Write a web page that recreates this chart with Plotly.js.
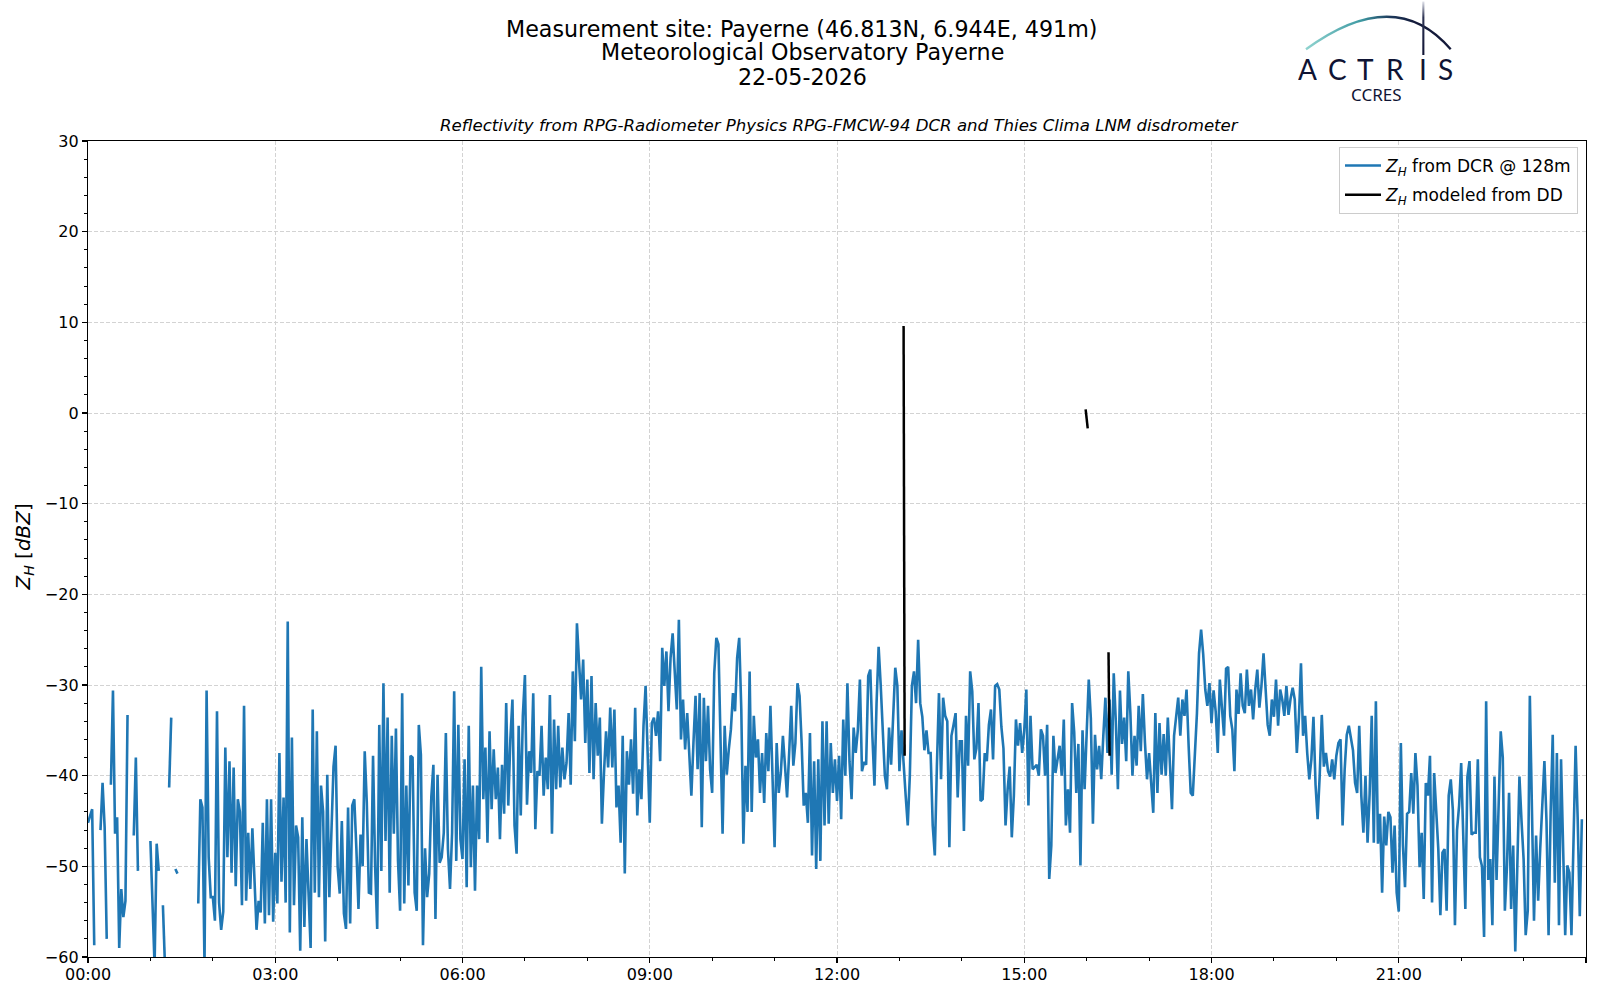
<!DOCTYPE html>
<html>
<head>
<meta charset="utf-8">
<script src="https://cdn.plot.ly/plotly-3.0.1.min.js"></script>
<style>
html,body{margin:0;padding:0;background:#ffffff;}
#chart{width:1600px;height:1000px;}
</style>
</head>
<body>
<div id="chart"></div>
<script>
// ---------------- DATA ----------------
const dateStr = '2026-05-22';
const stepMinutes = 2; // DCR sampling used here (values per hour = 30)

// Z_H from DCR @ 128m [dBZ], one array per hour, 2-minute steps (null = no data)
const dcrH00 = [-45.2,-44.5,-43.7,-58.7,null,null,-46,-40.8,-45.7,-58,null,-41,-30.6,-46.4,-44.6,-59,-52.5,-55.6,-53.8,-33.3,null,null,-46.6,-38,-50.5,null,null,null,null,null];
const dcrH01 = [-47.2,-54.5,-61,-47.5,-50.5,null,-54.3,-61,null,-41.3,-33.6,null,-50.3,-50.8,null,null,null,null,null,null,null,null,null,-54.1,-42.6,-43.5,-61,-30.6,-49,-53.4];
const dcrH02 = [-53.4,-56,-32.9,-54,-57,-55,-36.9,-49,-38.4,-50.7,-39.1,-52.2,-42.6,-44,-54.3,-32.3,-53.8,-46.3,-52.5,-45.8,-50.9,-57,-53.8,-55.1,-45.2,-56.3,-42.6,-55.4,-42.6,-56.1];
const dcrH03 = [-48.5,-54.1,-37.5,-51.7,-42.4,-54,-23,-57.3,-35.8,-54.3,-45.5,-46.8,-59.3,-44.6,-56.7,-47,-53,-59,-32.7,-52.9,-35.1,-53.4,-41.1,-44,-58.3,-39.9,-53.4,-46.6,-39,-36.7];
const dcrH04 = [-50.1,-53,-45,-55.2,-56.9,-43.5,-56.3,-43.3,-42.6,-48.1,-54.7,-46.5,-50,-37.3,-43,-52.9,-53,-37.8,-50,-56.9,-34.4,-50.5,-29.8,-47.2,-33.6,-52.9,-35.6,-46.4,-34.8,-49.4];
const dcrH05 = [-54.9,-30.9,-54.1,-41.1,-52.1,-37.8,-38,-52.9,-54.9,-34.4,-37.7,-58.7,-48,-53.4,-50.8,-42.4,-38.8,-55.8,-39.9,-49.6,-49,-46.3,-35.3,-48.1,-52.5,-46.3,-30.7,-49.4,-34.4,-47];
const dcrH06 = [-49.2,-38.2,-52.3,-34.5,-50.1,-41.1,-52.7,-41.1,-47,-28,-42.6,-36.9,-47.4,-35.1,-43.7,-37.1,-42.6,-39.1,-47,-38.8,-44.2,-32,-43.3,-36,-31.6,-45.5,-48.6,-34.5,-44.4,-33.4];
const dcrH07 = [-28.9,-43.2,-37.3,-39.7,-30.9,-45.9,-39.5,-40,-34.5,-42.2,-38,-41.5,-31.1,-46.4,-33.8,-41.5,-34.5,-41.3,-36.9,-40.4,-38.6,-33.1,-41,-28.5,-36.2,-23.2,-27.6,-31.6,-27.2,-36.4];
const dcrH08 = [-29.4,-39.7,-29,-40.4,-32,-37.8,-33.6,-45.3,-39.7,-35.1,-39.1,-32.5,-39.1,-32.7,-43.5,-41.1,-47.4,-35.6,-50.8,-37.3,-41,-36,-42,-32.5,-44.4,-39.3,-42.6,-34.5,-30.1,-37.1];
const dcrH09 = [-45.2,-34.2,-33.6,-35.6,-32.9,-38.4,-25.9,-30.1,-26.3,-32.9,-27,-24.3,-29,-32.7,-22.8,-36,-31.6,-37.1,-33.1,-37.8,-42.2,-36.4,-31.2,-39.3,-30.9,-45.7,-31.4,-38.4,-32.3,-39.3];
const dcrH10 = [-41.9,-28.7,-24.8,-25.5,-34.4,-46.4,-34.5,-39.9,-37.1,-34.9,-30.9,-32.9,-27,-24.8,-32.7,-47.5,-38.9,-44,-28.5,-44,-33.4,-38,-36,-41.9,-37.5,-43,-35.3,-39.5,-32.3,-41.1];
const dcrH11 = [-47.9,-36.4,-41.9,-39.7,-35.6,-38.9,-42.4,-37.5,-32.3,-38.9,-36.4,-29.8,-31.2,-36.4,-43.3,-41.9,-45.2,-35.3,-48.8,-38.4,-50.3,-38.2,-49.4,-34,-45.5,-34,-45.3,-36.4,-41.9,-38.2];
const dcrH12 = [-42.8,-37.8,-44.8,-33.8,-40,-29.8,-38.4,-42.6,-34.7,-37.5,-35,-29.4,-39.5,-38.5,-38.8,-29,-28.3,-35.6,-41.1,-32.1,-25.8,-30,-35.1,-40,-41.5,-34.7,-38.8,-33.3,-28.1,-30.1];
const dcrH13 = [-39.5,-35,-39,-42.2,-45.5,-40,-30.1,-28.5,-32,-25,-32,-33.5,-37.2,-35,-37.5,-37.5,-45.5,-48.8,-39,-30.9,-40.4,-31.4,-33.4,-34,-47.9,-35.6,-34.4,-33.1,-42.4,-36.2];
const dcrH14 = [-36.2,-46.1,-33.4,-38.9,-28.5,-30.7,-38.2,-37,-32,-42.8,-42.6,-37.5,-38.4,-34.4,-32.7,-38.2,-30.1,-29.9,-30.5,-34.6,-37,-45.5,-41.5,-39,-46.8,-42.2,-33.8,-36.7,-34.2,-37.5];
const dcrH15 = [-35,-30.5,-43.3,-33.4,-39.3,-39,-38.8,-40,-34.9,-35.6,-40,-34.4,-51.4,-47.7,-35.6,-39.7,-38.4,-36.7,-40,-33.8,-45.5,-41.5,-46.3,-32,-35.2,-41.9,-36.5,-49.9,-35,-41.5];
const dcrH16 = [-35.3,-29.4,-33.7,-45.3,-35.5,-39.3,-36.7,-40.4,-35.6,-31.4,-37.5,-31.6,-39.9,-28.7,-34,-41.5,-30.6,-36.5,-33.6,-38.4,-28.5,-33.1,-40,-35.6,-38.9,-32.3,-37.3,-31,-36.3,-40.4];
const dcrH17 = [-37.5,-41.5,-44.1,-33.1,-41.9,-34.2,-39.9,-35.4,-40,-33.6,-39.3,-43.7,-35.6,-33.1,-31.4,-35.6,-31.6,-33.4,-30.5,-36.7,-41.9,-42.2,-38.1,-33.1,-26.5,-23.9,-26.6,-30.5,-32.3,-29.8];
const dcrH18 = [-34.2,-30.6,-32.9,-37.5,-29.4,-33.1,-35.6,-28.2,-28,-33.4,-34.9,-39.5,-30.5,-33.2,-28.7,-32.3,-33.1,-28.3,-32.3,-30.5,-33.8,-30.5,-28.3,-32.5,-30.1,-26.5,-30.5,-34.4,-35.6,-31.6];
const dcrH19 = [-33.5,-29.4,-34.5,-30.5,-31.6,-33.4,-30.1,-33.3,-31.5,-30.3,-31.6,-37.5,-33.6,-27.6,-35.6,-33.4,-37.5,-40.4,-38.2,-33.5,-41,-44.8,-40,-33.3,-39,-37.5,-39.5,-40.1,-38.2,-40.4];
const dcrH20 = [-37.8,-36.4,-36,-45.5,-39.3,-35.5,-34.5,-36,-37.2,-40.8,-41.9,-34.5,-42.2,-46.3,-40,-47.4,-42,-33.4,-47.4,-31.8,-47.5,-44.2,-52.9,-44.5,-47.7,-44,-44.6,-50.7,-45.5,-52.9];
const dcrH21 = [-55,-36.4,-47.7,-52.3,-44.2,-44,-39.7,-44.2,-37.5,-41.1,-50.1,-46.3,-53.6,-40.8,-42.2,-37.8,-54,-39.7,-44.8,-48.1,-55.4,-48.5,-48.1,-54.9,-42.2,-40.4,-43.8,-56.5,-46,-43.3];
const dcrH22 = [-38.6,-47.5,-54.7,-40.1,-38.4,-46.5,-46.3,-46.3,-38.2,-49,-50,-57.8,-31.8,-51.5,-49.2,-56.5,-40.1,-51.5,-42.2,-35.1,-38,-54.9,-50,-41.9,-54.7,-47.7,-59.4,-50,-40.1,-45];
const dcrH23 = [-49.2,-57.6,-54.9,-31.2,-43.5,-56,-46.6,-53.8,-48,-43,-38.4,-45,-57.6,-44,-35.5,-51.8,-37.5,-56.5,-38.2,-48,-57.6,-49.9,-50.7,-57.6,-46,-36.7,-44.8,-55.5,-44.8,null];

// Z_H modeled from disdrometer [dBZ] (null separates segments)
const ddTimes  = ['2026-05-22 13:04','2026-05-22 13:05','2026-05-22 13:06','2026-05-22 15:59','2026-05-22 16:01','2026-05-22 16:10','2026-05-22 16:21','2026-05-22 16:22'];
const ddValues = [9.6,-37.8,null,0.4,-1.7,null,-26.4,-37.8];

// Text
const titleLines = ['Measurement site: Payerne (46.813N, 6.944E, 491m)','Meteorological Observatory Payerne','22-05-2026'];
const subtitleText = 'Reflectivity from RPG-Radiometer Physics RPG-FMCW-94 DCR and Thies Clima LNM disdrometer';
const seriesNames = ['<i>Z</i><sub><i>H</i></sub> from DCR @ 128m','<i>Z</i><sub><i>H</i></sub> modeled from DD'];
const yAxisTitle = '<i>Z</i><sub><i>H</i></sub> [<i>dBZ</i>]';
const logoLetters = ['A','C','T','R','I','S'];
const logoSub = 'CCRES';

// ---------------- BUILD ----------------
const dcrHours = [dcrH00,dcrH01,dcrH02,dcrH03,dcrH04,dcrH05,dcrH06,dcrH07,dcrH08,dcrH09,dcrH10,dcrH11,
                  dcrH12,dcrH13,dcrH14,dcrH15,dcrH16,dcrH17,dcrH18,dcrH19,dcrH20,dcrH21,dcrH22,dcrH23];
const pad = n => String(n).padStart(2,'0');
const dcrTimes = [], dcrValues = [];
dcrHours.forEach((arr,h) => arr.forEach((v,k) => {
  dcrTimes.push(`${dateStr} ${pad(h)}:${pad(k*stepMinutes)}`);
  dcrValues.push(v);
}));

const W = 1600, H = 1000;
const M = {l:88, r:14, t:141, b:43};
const PW = W - M.l - M.r, PH = H - M.t - M.b;
const px2x = px => (px - M.l) / PW;
const px2y = py => (H - M.b - py) / PH;

const FONT = 'DejaVu Sans, Verdana, sans-serif';
const LOGO = '#0f1434';

const traces = [
  {x: dcrTimes, y: dcrValues, type:'scatter', mode:'lines', name: seriesNames[0], legendgroup:'dcr',
   line:{color:'#1f77b4', width:2.6}, connectgaps:false},
  {x: ddTimes, y: ddValues, type:'scatter', mode:'lines', name: seriesNames[1], legendgroup:'dd',
   line:{color:'#000000', width:2.5}, connectgaps:false}
];

const annotations = [];
const titleY = [28.7, 51.6, 76.6];
titleLines.forEach((t,i) => annotations.push({
  text:t, xref:'paper', yref:'paper', x:px2x(802), y:px2y(titleY[i]),
  xanchor:'center', yanchor:'middle', showarrow:false, borderpad:0,
  font:{family:FONT, size:22.2, color:'#000'}
}));
annotations.push({
  text:'<i>'+subtitleText+'</i>', xref:'paper', yref:'paper', x:px2x(839), y:px2y(125.5),
  xanchor:'center', yanchor:'middle', showarrow:false,
  font:{family:FONT, size:16.6, color:'#000'}
});
annotations.push({
  text:yAxisTitle, xref:'paper', yref:'paper', x:px2x(23.5), y:px2y(547),
  xanchor:'center', yanchor:'middle', textangle:-90, showarrow:false,
  font:{family:FONT, size:20, color:'#000'}
});
const letterX = [1307.3,1337.7,1365,1394.7,1423.3,1445.7];
logoLetters.forEach((c,i) => annotations.push({
  text:c, xref:'paper', yref:'paper', x:px2x(letterX[i]), y:px2y(68.5),
  xanchor:'center', yanchor:'middle', showarrow:false, height:25, borderpad:0,
  font:{family:'Lato, Noto Sans, sans-serif', size:28, color:LOGO}
}));
annotations.push({
  text:logoSub, xref:'paper', yref:'paper', x:px2x(1376.7), y:px2y(93.5),
  xanchor:'center', yanchor:'middle', showarrow:false, height:16, borderpad:0,
  font:{family:'Noto Sans, Open Sans, sans-serif', size:17, color:LOGO}
});

const logoSvg = `<svg xmlns="http://www.w3.org/2000/svg" width="160" height="60" viewBox="0 0 160 60" preserveAspectRatio="none">
<defs>
<linearGradient id="g" x1="6" y1="0" x2="151" y2="0" gradientUnits="userSpaceOnUse">
<stop offset="0" stop-color="#8fd3cf"/><stop offset="0.38" stop-color="#3f9aa3"/>
<stop offset="0.58" stop-color="#1d3a5c"/><stop offset="0.75" stop-color="#141a3a"/><stop offset="1" stop-color="#141a3a"/>
</linearGradient>
<linearGradient id="v" x1="0" y1="0" x2="0" y2="1">
<stop offset="0" stop-color="#e0e2ea"/><stop offset="0.3" stop-color="#2c3252"/><stop offset="1" stop-color="#101434"/>
</linearGradient>
</defs>
<path d="M6,49.3 Q95,-15.9 150.7,49.3" fill="none" stroke="url(#g)" stroke-width="2.3"/>
<rect x="122.3" y="1.5" width="2.1" height="53.5" fill="url(#v)"/>
</svg>`;

const gridStyle = {showgrid:true, gridcolor:'#d3d3d3', gridwidth:1, griddash:'4px,2px'};

const layout = {
  width:W, height:H, margin:M,
  paper_bgcolor:'#ffffff', plot_bgcolor:'#ffffff',
  showlegend:true,
  legend:{x:px2x(1578), xanchor:'right', y:px2y(147), yanchor:'top',
          bgcolor:'rgba(255,255,255,0.85)', bordercolor:'#cccccc', borderwidth:1,
          font:{family:FONT, size:17, color:'#000'}, tracegroupgap:4, itemwidth:36},
  xaxis:Object.assign({
    type:'date', range:['2026-05-22 00:00:00','2026-05-22 23:59:59'],
    tick0:'2026-05-22 00:00', dtick:3*3600000, tickformat:'%H:%M',
    ticks:'outside', ticklen:5, tickwidth:1.2, tickcolor:'#000',
    showline:true, linecolor:'#000', linewidth:1.2, mirror:true, zeroline:false,
    tickfont:{family:FONT, size:16, color:'#000'}, ticklabelstandoff:-2,
    minor:{dtick:3600000, ticks:'outside', ticklen:3, tickwidth:1, tickcolor:'#000', showgrid:false}
  }, gridStyle),
  yaxis:Object.assign({
    range:[-60,30], tick0:0, dtick:10,
    ticks:'outside', ticklen:5, tickwidth:1.2, tickcolor:'#000',
    showline:true, linecolor:'#000', linewidth:1.2, mirror:true, zeroline:false,
    tickfont:{family:FONT, size:16, color:'#000'},
    minor:{dtick:2, ticks:'outside', ticklen:3, tickwidth:1, tickcolor:'#000', showgrid:false}
  }, gridStyle),
  annotations:annotations,
  images:[{
    source:'data:image/svg+xml;charset=utf-8,' + encodeURIComponent(logoSvg),
    xref:'paper', yref:'paper', x:px2x(1300), y:px2y(0),
    sizex:160/PW, sizey:60/PH, sizing:'stretch', xanchor:'left', yanchor:'top', layer:'above'
  }]
};

Plotly.newPlot('chart', traces, layout, {staticPlot:true, displayModeBar:false});
</script>
</body>
</html>
